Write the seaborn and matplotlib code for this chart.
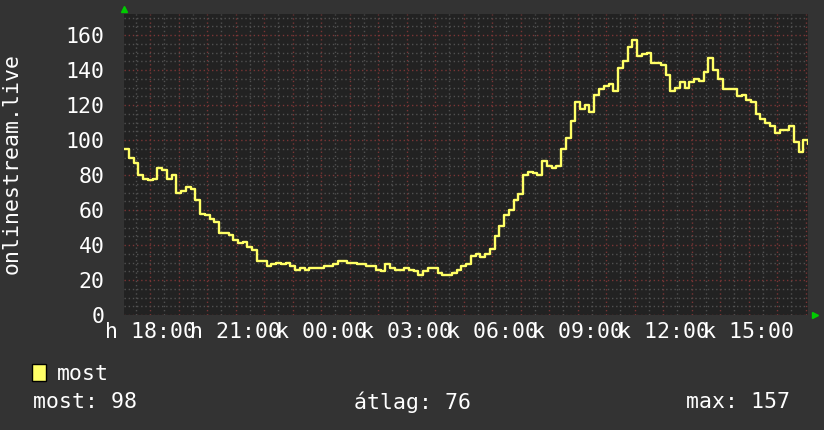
import pandas as pd
import numpy as np
import matplotlib
matplotlib.use('Agg')
import matplotlib.pyplot as plt
import matplotlib.dates as mdates
from matplotlib.ticker import MultipleLocator, FuncFormatter
from matplotlib.patches import Patch
import seaborn as sns

# 10-minute samples starting at Monday 17:05
start = '2024-01-01 17:05'
values = [95, 90, 87, 80, 78, 77, 78, 84, 83, 78,
          80, 70, 71, 73, 72, 66, 58, 57, 55, 53,
          47, 47, 46, 43, 41, 42, 39, 37, 31, 31,
          28, 29, 30, 29, 30, 28, 26, 27, 26, 27,
          27, 27, 28, 28, 29, 31, 31, 30, 30, 29,
          29, 28, 28, 26, 25, 29, 27, 26, 26, 27,
          26, 25, 23, 25, 27, 27, 24, 23, 23, 24,
          26, 28, 29, 34, 35, 33, 35, 38, 45, 51,
          57, 60, 66, 69, 80, 82, 81, 80, 88, 85,
          84, 85, 95, 101, 111, 122, 118, 120, 116, 126,
          129, 131, 132, 128, 141, 145, 153, 157, 148, 149,
          150, 144, 144, 143, 137, 128, 130, 133, 130, 133,
          135, 134, 139, 147, 140, 135, 129, 129, 129, 125,
          126, 123, 122, 115, 112, 110, 108, 104, 106, 106,
          108, 99, 93, 100, 98]
day_abbr = ['h', 'k', 'sze', 'cs', 'p', 'szo', 'v']
series_name = 'most'
y_title = 'onlinestream.live'
stats = ['most: 98', 'átlag: 76', 'max: 157']

BACK = '#333333'
CANVAS = '#222222'
LINE = '#ffff66'
MONO = 'DejaVu Sans Mono'
FS = 15.5

sns.set_theme(style='dark')
plt.rcParams['font.family'] = [MONO, 'DejaVu Sans']

df = pd.DataFrame({'time': pd.date_range(start, periods=len(values), freq='10min'),
                   'value': values})

fig = plt.figure(figsize=(8.24, 4.30), dpi=100, facecolor=BACK)
ax = fig.add_axes([124 / 824, 1 - 315 / 430, (808 - 124) / 824, (315 - 14) / 430])
ax.set_facecolor(CANVAS)

sns.lineplot(data=df, x='time', y='value', ax=ax, color=LINE, linewidth=1.7,
             drawstyle='steps-post', zorder=3)

t0 = df['time'].iloc[0]
ax.set_xlim(t0, t0 + pd.Timedelta(hours=24))
ax.set_ylim(0, 172)

def time_label(x, pos):
    d = mdates.num2date(round(x * 24) / 24)
    if d.hour % 3 == 0:
        return f"{day_abbr[d.weekday()]} {d:%H:%M}"
    return ''

ax.xaxis.set_major_locator(mdates.HourLocator(interval=1))
ax.xaxis.set_minor_locator(mdates.MinuteLocator(byminute=[30]))
ax.xaxis.set_major_formatter(FuncFormatter(time_label))
ax.yaxis.set_major_locator(MultipleLocator(20))
ax.yaxis.set_minor_locator(MultipleLocator(5))

ax.grid(which='major', color='#7a3535', linestyle=(0, (1, 2)), linewidth=1)
ax.grid(which='minor', color='#505050', linestyle=(0, (1, 2)), linewidth=1)
ax.set_axisbelow(True)

ax.tick_params(axis='both', which='both', length=0, colors='white', labelsize=FS)
ax.tick_params(axis='x', pad=5)
ax.tick_params(axis='y', pad=14)
for lab in ax.get_xticklabels() + ax.get_yticklabels():
    lab.set_family(MONO)
ax.set_xlabel('')
ax.set_ylabel('')
for s in ax.spines.values():
    s.set_visible(False)

# axis arrows
ax.plot([0], [1 + 5 / 301], marker='^', ms=5, color='#00cc00', transform=ax.transAxes,
        clip_on=False, linestyle='none')
ax.plot([1 + 7 / 684], [0], marker='>', ms=5, color='#00cc00', transform=ax.transAxes,
        clip_on=False, linestyle='none')

fig.text(12 / 824, 1 - 164 / 430, y_title, rotation=90, ha='center', va='center',
         color='white', fontsize=FS, family=MONO)

fig.legend(handles=[Patch(facecolor=LINE, edgecolor='black', label=series_name)],
           loc='upper left', bbox_to_anchor=(32 / 824, 1 - 364 / 430),
           bbox_transform=fig.transFigure, frameon=False, fontsize=FS,
           handlelength=0.65, handleheight=0.8, handletextpad=0.5, borderpad=0,
           borderaxespad=0, labelcolor='white', prop={'family': MONO, 'size': FS})

y_stats = 1 - 402 / 430
fig.text(33 / 824, y_stats, stats[0], ha='left', va='center', color='white', fontsize=FS, family=MONO)
fig.text(412 / 824, y_stats, stats[1], ha='center', va='center', color='white', fontsize=FS, family=MONO)
fig.text(790 / 824, y_stats, stats[2], ha='right', va='center', color='white', fontsize=FS, family=MONO)

fig.savefig('out.png', dpi=100, facecolor=fig.get_facecolor())
